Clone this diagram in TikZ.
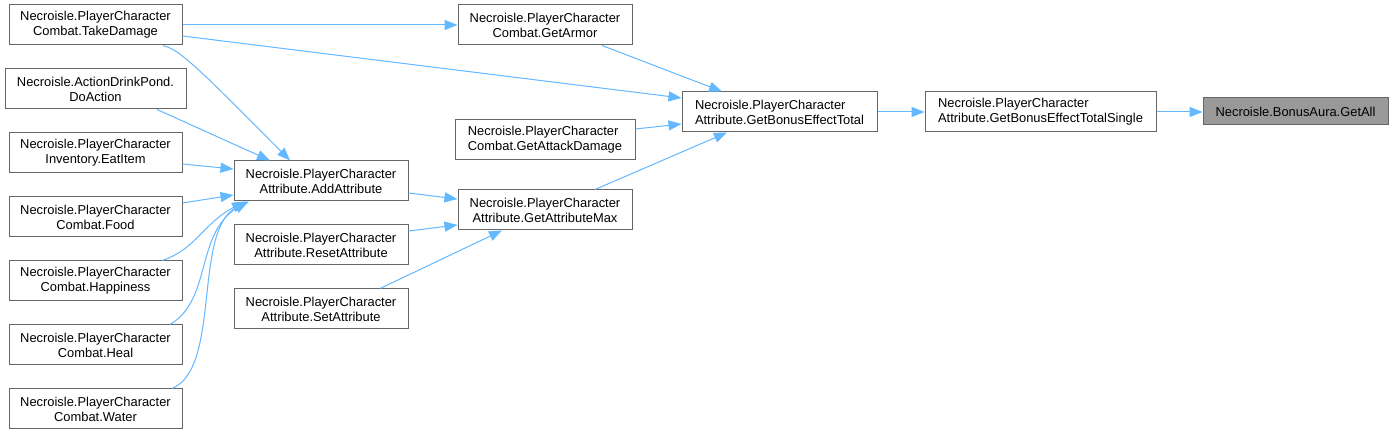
\documentclass[tikz,border=0pt]{standalone}
\usepackage{fontspec}
\setmainfont{Liberation Sans}
\usetikzlibrary{arrows.meta}
\definecolor{edgeblue}{HTML}{63B8FF}
\definecolor{boxgray}{HTML}{666666}
\definecolor{fillgray}{HTML}{999999}
\begin{document}
\begin{tikzpicture}[x=1pt,y=-1pt,
  box/.style={draw=boxgray,line width=1pt,fill=white,inner sep=0pt,minimum height=40pt,align=center,
    font=\fontsize{12.9}{15}\selectfont},
  lbox/.style={box,align=left},
  edge/.style={draw=edgeblue,line width=1pt,-{Triangle[length=13pt,width=10pt]}}]
\useasboundingbox (0,0) rectangle (1393,435);
\fill[white] (0,0) rectangle (1393,435);
% left column
\node[box,minimum width=173pt] (td) at (95.5,25) {Necroisle.PlayerCharacter\\Combat.TakeDamage};
\node[box,minimum width=181pt] (da) at (95.5,89) {Necroisle.ActionDrinkPond.\\DoAction};
\node[box,minimum width=173pt] (ei) at (95.5,153) {Necroisle.PlayerCharacter\\Inventory.EatItem};
\node[box,minimum width=173pt] (fd) at (95.5,217) {Necroisle.PlayerCharacter\\Combat.Food};
\node[box,minimum width=173pt] (hp) at (95.5,281) {Necroisle.PlayerCharacter\\Combat.Happiness};
\node[box,minimum width=173pt] (hl) at (95.5,345) {Necroisle.PlayerCharacter\\Combat.Heal};
\node[box,minimum width=173pt] (wt) at (95.5,409) {Necroisle.PlayerCharacter\\Combat.Water};
% second column
\node[box,minimum width=174pt] (aa) at (321,181) {Necroisle.PlayerCharacter\\Attribute.AddAttribute};
\node[box,minimum width=174pt] (ra) at (321,245) {Necroisle.PlayerCharacter\\Attribute.ResetAttribute};
\node[box,minimum width=174pt] (sa) at (321,309) {Necroisle.PlayerCharacter\\Attribute.SetAttribute};
% third column
\node[box,minimum width=174pt] (gar) at (545,25) {Necroisle.PlayerCharacter\\Combat.GetArmor};
\node[lbox,minimum width=180pt] (gad) at (545,140) {Necroisle.PlayerCharacter\\Combat.GetAttackDamage};
\node[box,minimum width=174pt] (gam) at (545,210) {Necroisle.PlayerCharacter\\Attribute.GetAttributeMax};
% right
\node[lbox,minimum width=195pt] (gbet) at (779.5,112) {Necroisle.PlayerCharacter\\Attribute.GetBonusEffectTotal};
\node[lbox,minimum width=231pt] (gbets) at (1040.5,112) {Necroisle.PlayerCharacter\\Attribute.GetBonusEffectTotalSingle};
\node[box,fill=fillgray,minimum width=185pt,minimum height=27pt] (ga) at (1295.5,111.5) {Necroisle.BonusAura.GetAll};
% edges
\draw[edge] (td.east) -- (gar.west);
\draw[edge] ([yshift=-11pt]td.east) -- ([yshift=14pt]gbet.west);
\draw[edge] ([xshift=57pt]gar.south) -- ([xshift=-57.5pt]gbet.north);
\draw[edge] ([yshift=11pt]gad.east) -- ([yshift=-12pt]gbet.west);
\draw[edge] ([xshift=50pt]gam.north) -- ([xshift=-52.5pt]gbet.south);
\draw[edge] (gbet.east) -- (gbets.west);
\draw[edge] (gbets.east) -- (gbets.east -| ga.west);
\draw[edge] ([yshift=-12pt]aa.east) -- ([yshift=11pt]gam.west);
\draw[edge] ([yshift=14pt]ra.east) -- ([yshift=-15pt]gam.west);
\draw[edge] ([xshift=59pt]sa.north) -- ([xshift=-43pt]gam.south);
\draw[edge] ([xshift=67.5pt]td.south) .. controls (178,50) and (186,55) .. ([xshift=-31pt]aa.north);
\draw[edge] ([xshift=61.5pt]da.south) -- ([xshift=-51pt]aa.north);
\draw[edge] ([yshift=-11pt]ei.east) -- ([yshift=12pt]aa.west);
\draw[edge] ([yshift=14pt]fd.east) -- ([yshift=-14pt]aa.west);
\draw[edge] ([xshift=66.5pt]hp.north) .. controls (195,250) and (205,222) .. ([xshift=-76pt]aa.south);
\draw[edge] ([xshift=74.5pt]hl.north) .. controls (212,300) and (195,235) .. ([xshift=-74pt]aa.south);
\draw[edge] ([xshift=76.5pt]wt.north) .. controls (222,368) and (192,228) .. ([xshift=-72pt]aa.south);
\end{tikzpicture}
\end{document}
